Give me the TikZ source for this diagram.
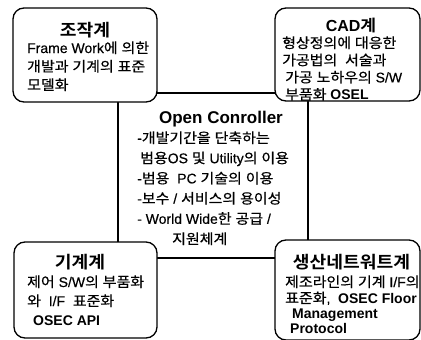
\documentclass[tikz,border=0pt]{standalone}
\usepackage{fontspec}
\setmainfont{Liberation Sans}[UprightFeatures={FakeBold=0.3}]
\newfontfamily\krfont{Noto Sans CJK KR}[FakeStretch=1.07, BoldFont={Noto Sans CJK KR Bold}, UprightFeatures={FakeBold=0.5}]
\XeTeXinterchartokenstate=1
\newXeTeXintercharclass\KRclass
\newcount\krc
\krc="AC00
\loop\ifnum\krc<"D7A4 \XeTeXcharclass\krc=\KRclass \advance\krc by 1 \repeat
\XeTeXinterchartoks 0 \KRclass = {\krfont}
\XeTeXinterchartoks 4095 \KRclass = {\krfont}
\XeTeXinterchartoks \KRclass 0 = {\rmfamily}
\XeTeXinterchartoks \KRclass 4095 = {\rmfamily}
\newcommand\lines[1]{\begin{tabular}[t]{@{}l@{}}#1\end{tabular}}
\begin{document}
\begin{tikzpicture}[x=1pt,y=-1pt,
  box/.style={draw, line width=1.3pt, rounded corners=11pt, fill=white, inner sep=0pt},
  frame/.style={draw, line width=1.3pt, inner sep=0pt},
  body/.style={anchor=base west, inner sep=0pt},
  ttl/.style={anchor=base, inner sep=0pt, font=\fontsize{17}{19}\selectfont\bfseries}]
\useasboundingbox (0,0) rectangle (421,340);
\fill[white] (0,0) rectangle (421,340);
% central frame
\node[frame, minimum width=190pt, minimum height=165pt] (core) at (213,175.5) {};
% four boxes
\node[box, minimum width=144pt, minimum height=94pt] (tl) at (85,55) {};
\node[box, minimum width=145pt, minimum height=93pt] (tr) at (347.5,54.5) {};
\node[box, minimum width=143pt, minimum height=96pt] (bl) at (85.5,290) {};
\node[box, minimum width=145pt, minimum height=100pt] (br) at (347.5,290) {};
% titles
\node[ttl] (tlt) at (85,36) {조작계};
\node[ttl, font=\fontsize{16}{19}\selectfont\bfseries] (trt) at (351,31) {CAD계};
\node[ttl] (blt) at (80,268) {기계계};
\node[ttl] (brt) at (351.5,268) {생산네트워트계};
\node[ttl, font=\fontsize{17}{19}\selectfont\bfseries] (ct) at (221,123) {Open Conroller};
% bodies
\node[body, font=\fontsize{14}{18.5}\selectfont] (tlb) at (27,53)
  {\lines{Frame Work에 의한\\개발과 기계의 표준\\모델화}};
\node[body, font=\fontsize{14}{17.2}\selectfont] (trb) at (282,48)
  {\lines{형상정의에 대응한\\가공법의\ \ 서술과\\\hspace{3pt}가공 노하우의 S/W\\\hspace{3pt}부품화 \textbf{OSEL}}};
\node[body, font=\fontsize{14}{20.2}\selectfont] (cb) at (137,143)
  {\lines{-개발기간을 단축하는\\\hspace{3pt}범용OS 및 Utility의 이용\\-범용\ \ PC 기술의 이용\\-보수 / 서비스의 용이성\\- World Wide한 공급 /\\\hspace{35pt}지원체계}};
\node[body, font=\fontsize{14}{19}\selectfont] (blb) at (27,287)
  {\lines{제어 S/W의 부품화\\와\ \ I/F\ \ 표준화\\\hspace{6pt}\textbf{OSEC API}}};
\node[body, font=\fontsize{14}{15.3}\selectfont] (brb) at (285,287)
  {\lines{제조라인의 기계 I/F의\\표준화,\ \ \textbf{OSEC Floor}\\\hspace{7pt}\textbf{Management}\\\hspace{5pt}\textbf{Protocol}}};
\end{tikzpicture}
\end{document}
